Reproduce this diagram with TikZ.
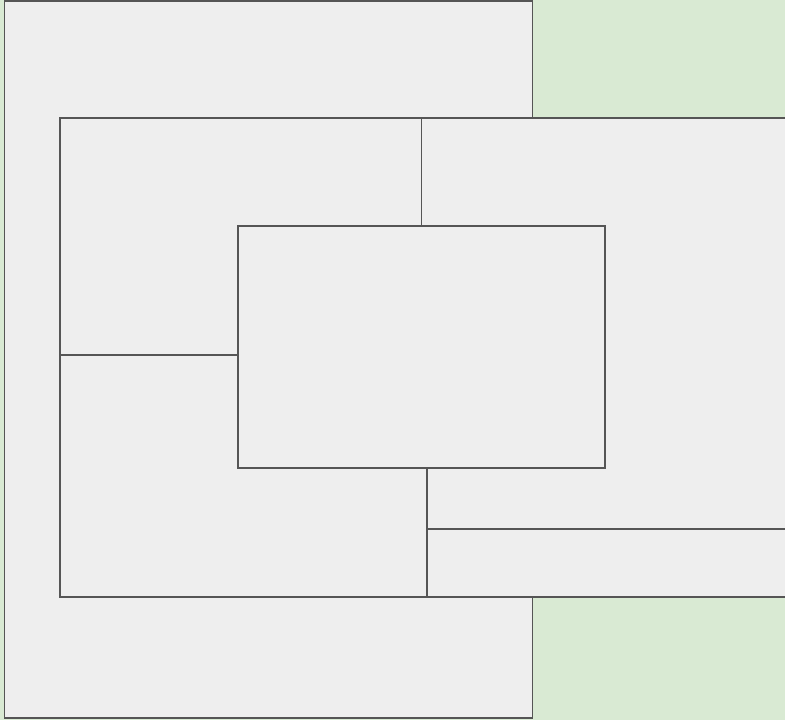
\documentclass[tikz,border=0pt]{standalone}
\usetikzlibrary{calc}
\definecolor{PaneGreen}{HTML}{D9EAD3}
\definecolor{PaneGray}{HTML}{EEEEEE}
\definecolor{EdgeInk}{HTML}{555555}
\tikzset{
  panel/.style={draw=EdgeInk, fill=PaneGray, line width=1.5pt, inner sep=0pt, outer sep=0pt, anchor=north west},
  split/.style={draw=EdgeInk, line width=1.5pt}
}
\begin{document}
\begin{tikzpicture}[x=1pt, y=-1pt]
  \fill[PaneGreen] (0,0) rectangle (785,720);
  \useasboundingbox (0,0) rectangle (785,720);
  % outer pane
  \node[panel, minimum width=528pt, minimum height=717pt] (outer) at (4.5,1) {};
  % frame pane
  \node[panel, minimum width=735pt, minimum height=479pt] (frame) at (60,118) {};
  % centre pane
  \node[panel, minimum width=367pt, minimum height=242pt] (centre) at (238,226) {};
  % dividers
  \coordinate (topcut) at (frame.north -| centre.north);
  \draw[split] (topcut) -- (centre.north);
  \coordinate (leftcut) at ($(frame.west)+(0,-2.5)$);
  \coordinate (leftend) at (leftcut -| centre.west);
  \draw[split] (leftcut) -- (leftend);
  \coordinate (lowcut) at ($(centre.south)+(5.5,0)$);
  \coordinate (lowend) at (lowcut |- frame.south);
  \draw[split] (lowcut) -- (lowend);
  \coordinate (railcut) at ($(lowcut)+(0,61)$);
  \coordinate (railend) at (railcut -| frame.east);
  \draw[split] (railcut) -- (railend);
\end{tikzpicture}
\end{document}
